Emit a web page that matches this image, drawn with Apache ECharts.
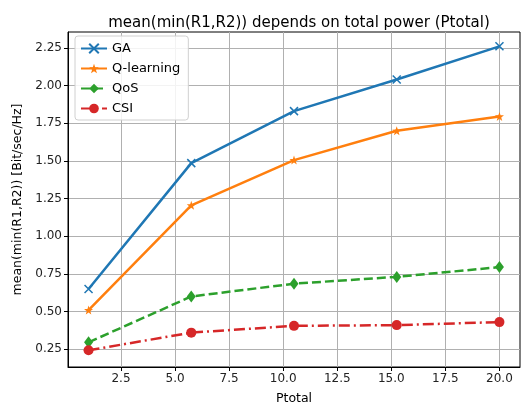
<!DOCTYPE html>
<html>
<head>
<meta charset="utf-8">
<script src="https://cdn.jsdelivr.net/npm/echarts@6/dist/echarts.min.js"></script>
<style>
  html, body { margin: 0; padding: 0; background: #fff; }
  #main { width: 528px; height: 410px; }
</style>
</head>
<body>
<div id="main"></div>
<script>
// x positions (Ptotal) and series values
var ptotal = [1, 5.75, 10.5, 15.25, 20];
var gaData = [0.65, 1.485, 1.83, 2.04, 2.26];
var qlData = [0.51, 1.205, 1.505, 1.70, 1.795];
var qosData = [0.296, 0.60, 0.685, 0.73, 0.795];
var csiData = [0.243, 0.36, 0.405, 0.41, 0.43];
var xTicks = [2.5, 5, 7.5, 10, 12.5, 15, 17.5, 20];
var yTicks = [0.25, 0.5, 0.75, 1, 1.25, 1.5, 1.75, 2, 2.25];

function pairs(ys) {
  return ptotal.map(function (x, i) { return [x, ys[i]]; });
}

var starPath = 'path://M10,0L12.35,6.76L19.51,6.91L13.8,11.24L15.88,18.09L10,14L4.12,18.09L6.2,11.24L0.49,6.91L7.65,6.76Z';
var crossPath = 'path://M0,0L10,10M10,0L0,10';
var font = 'DejaVu Sans';

window.onload = function () {
  var chart = echarts.init(document.getElementById('main'));
  var option = {
    animation: false,
    textStyle: { fontFamily: font },
    title: {
      text: 'mean(min(R1,R2)) depends on total power (Ptotal)',
      left: 294, textAlign: 'center',
      top: 11,
      textStyle: { fontFamily: font, fontSize: 15, fontWeight: 'normal', color: '#000' }
    },
    grid: {
      left: 68, right: 8, top: 32, bottom: 38,
      show: true, borderColor: '#000', borderWidth: 1
    },
    legend: {
      orient: 'vertical',
      left: 75, top: 36,
      padding: [6, 8, 5, 5],
      itemGap: 7,
      itemWidth: 26,
      itemHeight: 12,
      backgroundColor: 'rgba(255,255,255,0.85)',
      borderColor: '#d0d0d0',
      borderWidth: 1,
      borderRadius: 3,
      textStyle: { fontFamily: font, fontSize: 13, color: '#000' },
      data: ['GA', 'Q-learning', 'QoS', 'CSI']
    },
    xAxis: {
      type: 'value',
      min: 0.05, max: 20.95,
      name: 'Ptotal',
      nameLocation: 'middle',
      nameGap: 25,
      nameTextStyle: { fontFamily: font, fontSize: 12.5, color: '#000' },
      axisLine: { show: true, lineStyle: { color: '#000', width: 1 } },
      axisTick: { show: true, length: 4, customValues: xTicks, lineStyle: { color: '#000' } },
      axisLabel: {
        customValues: xTicks,
        fontSize: 12, color: '#222', margin: 6,
        formatter: function (v) { return v.toFixed(1); }
      },
      splitLine: { show: true, lineStyle: { color: '#b0b0b0', width: 1 } }
    },
    yAxis: {
      type: 'value',
      min: 0.132, max: 2.355,
      name: 'mean(min(R1,R2)) [Bit/sec/Hz]',
      nameLocation: 'middle',
      nameGap: 43,
      nameTextStyle: { fontFamily: font, fontSize: 12.5, color: '#000' },
      axisLine: { show: true, lineStyle: { color: '#000', width: 1 } },
      axisTick: { show: true, length: 4, customValues: yTicks, lineStyle: { color: '#000' } },
      axisLabel: {
        customValues: yTicks,
        fontSize: 12, color: '#222', margin: 6,
        formatter: function (v) { return v.toFixed(2); }
      },
      splitLine: { show: true, lineStyle: { color: '#b0b0b0', width: 1 } }
    },
    series: [
      {
        name: 'GA', type: 'line', data: pairs(gaData),
        symbol: crossPath, symbolSize: 8,
        lineStyle: { color: '#1f77b4', width: 2.5 },
        itemStyle: { color: '#1f77b4', borderColor: '#1f77b4', borderWidth: 1.5 }
      },
      {
        name: 'Q-learning', type: 'line', data: pairs(qlData),
        symbol: starPath, symbolSize: 9,
        lineStyle: { color: '#ff7f0e', width: 2.5 },
        itemStyle: { color: '#ff7f0e', borderWidth: 0 }
      },
      {
        name: 'QoS', type: 'line', data: pairs(qosData),
        symbol: 'diamond', symbolSize: [9, 12],
        lineStyle: { color: '#2ca02c', width: 2.5, type: [9, 4] },
        itemStyle: { color: '#2ca02c', borderWidth: 0 }
      },
      {
        name: 'CSI', type: 'line', data: pairs(csiData),
        symbol: 'circle', symbolSize: 10,
        lineStyle: { color: '#d62728', width: 2.5, type: [11, 4, 2, 4] },
        itemStyle: { color: '#d62728', borderWidth: 0 }
      }
    ]
  };
  chart.setOption(option);
};
</script>
</body>
</html>
